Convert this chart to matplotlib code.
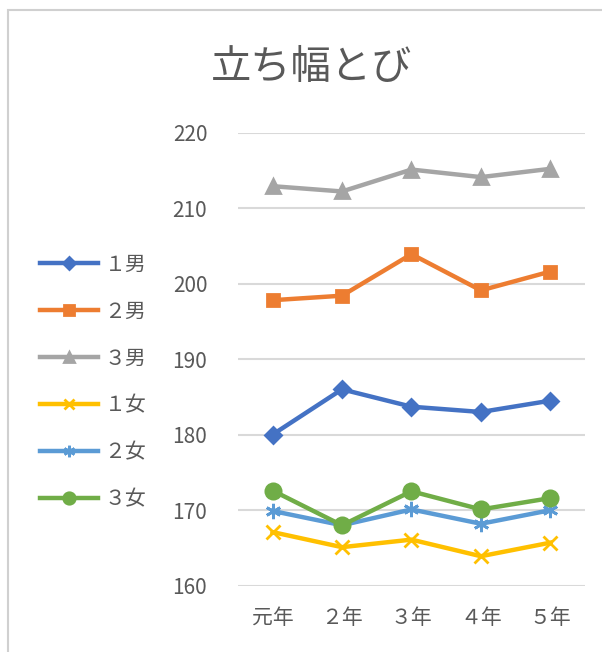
import matplotlib
matplotlib.use("Agg")
import matplotlib.pyplot as plt
from matplotlib.patches import Rectangle

plt.rcParams['font.family'] = ['Noto Sans CJK JP', 'DejaVu Sans']

# データ
years = ['元年', '２年', '３年', '４年', '５年']
labels = ['１男', '２男', '３男', '１女', '２女', '３女']
boy1 = [180.0, 186.0, 183.7, 183.0, 184.5]
boy2 = [197.8, 198.4, 203.9, 199.1, 201.6]
boy3 = [212.9, 212.2, 215.1, 214.1, 215.2]
girl1 = [167.1, 165.1, 166.1, 163.9, 165.7]
girl2 = [169.9, 168.0, 170.1, 168.2, 170.0]
girl3 = [172.6, 168.0, 172.5, 170.1, 171.6]
series = [boy1, boy2, boy3, girl1, girl2, girl3]

colors = ['#4472C4', '#ED7D31', '#A5A5A5', '#FFC000', '#5B9BD5', '#70AD47']
markers = ['D', 's', '^', 'x', (6, 2, 0), 'o']
msizes = [8, 9, 10, 10, 11, 11]

fig = plt.figure(figsize=(6.02, 6.52), dpi=100)
ax = fig.add_axes([0.395, 0.1017, 0.577, 0.695])

# 枠線
fig.patches.append(Rectangle((0.014, -0.01), 1.0, 0.995, transform=fig.transFigure,
                             fill=False, edgecolor='#D0D0D0', linewidth=1.5))

x = range(len(years))
for vals, lab, c, m, ms in zip(series, labels, colors, markers, msizes):
    ax.plot(x, vals, color=c, marker=m, markersize=ms, linewidth=3.2,
            markeredgewidth=2, label=lab)

ax.set_xlim(-0.5, len(years) - 0.5)
ax.set_ylim(160, 220)
ax.set_yticks(range(160, 221, 10))
ax.set_xticks(list(x))
ax.set_xticklabels(years)
ax.grid(axis='y', color='#D9D9D9', linewidth=1.5)
ax.set_axisbelow(True)
for s in ax.spines.values():
    s.set_visible(False)
ax.tick_params(length=0, labelsize=15, colors='#595959')
ax.tick_params(axis='y', pad=22)
ax.tick_params(axis='x', pad=15)

fig.text(0.518, 0.897, '立ち幅とび', ha='center', va='center', fontsize=29, color='#595959')

ax.legend(loc='center left', bbox_to_anchor=(0.035, 0.414), bbox_transform=fig.transFigure,
          frameon=False, fontsize=15, handlelength=2.8, labelspacing=1.2,
          handletextpad=0.3, markerscale=0.75, labelcolor='#595959')

fig.savefig('out.png', dpi=100)
